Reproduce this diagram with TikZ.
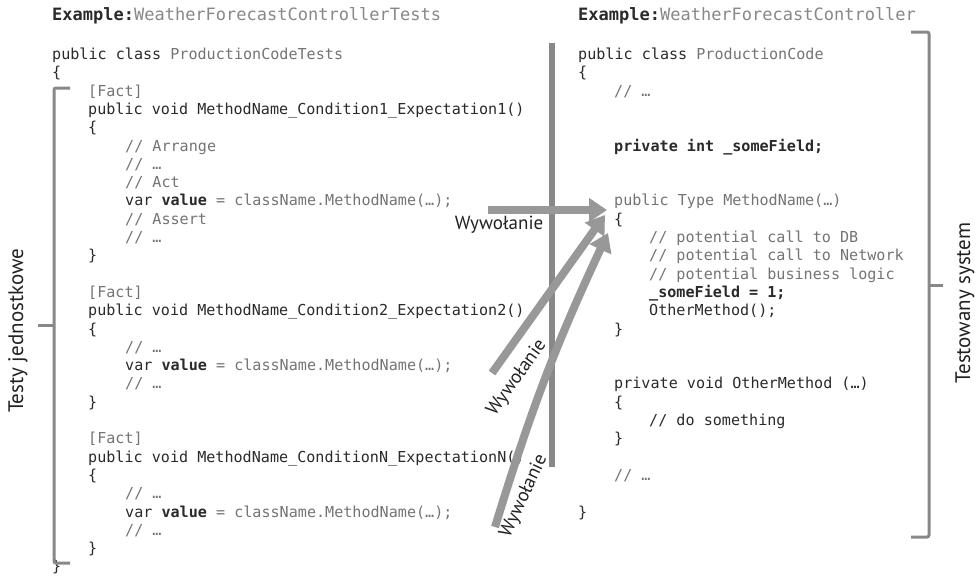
\documentclass[tikz,border=0pt]{standalone}
\usepackage{fontspec}
\setmainfont{PT Sans}
\newfontfamily\codefont{DejaVu Sans Mono}
\usetikzlibrary{arrows.meta}
\definecolor{cdark}{HTML}{2A2A2A}
\definecolor{cgray}{HTML}{747474}
\definecolor{lgray}{HTML}{888888}
\definecolor{linegray}{HTML}{888888}
\definecolor{arrgray}{HTML}{989898}
\definecolor{labdark}{HTML}{222222}
\newcommand\codeln[4]{\node[code] (#1) at (#2,{57+18.3*#3}) {#4};}
\begin{document}
\begin{tikzpicture}[x=1pt,y=-1pt,
  code/.style={font={\codefont\fontsize{15.1}{18}\selectfont}, text=cdark, inner sep=0pt, anchor=mid west},
  head/.style={font={\codefont\fontsize{17}{20}\selectfont}, text=cdark, inner sep=0pt, anchor=mid west},
  brk/.style={line width=3pt, draw=linegray, rounded corners=2pt},
  lab/.style={font={\fontsize{21}{24}\selectfont}, text=labdark, inner sep=0pt},
  lab2/.style={font={\fontsize{19}{22}\selectfont}, text=labdark, inner sep=0pt},
  arr/.style={line width=8pt, draw=arrgray, -{Triangle[length=18pt,width=23pt]}}]
\useasboundingbox (0,0) rectangle (976,582);
\fill[white] (0,0) rectangle (976,582);
% headers
\node[head] (hl) at (52,18) {\textbf{Example:}\textcolor{lgray}{WeatherForecastControllerTests}};
\node[head] (hr) at (578,18) {\textbf{Example:}\textcolor{lgray}{WeatherForecastController}};
% left listing
\codeln{L0}{52}{0}{public class \textcolor{cgray}{ProductionCodeTests}}
\codeln{L1}{52}{1}{\{}
\codeln{L2}{88}{2}{\textcolor{cgray}{[Fact]}}
\codeln{L3}{88}{3}{public void MethodName\_Condition1\_Expectation1()}
\codeln{L4}{88}{4}{\{}
\codeln{L5}{125}{5}{\textcolor{cgray}{// Arrange}}
\codeln{L6}{125}{6}{\textcolor{cgray}{// …}}
\codeln{L7}{125}{7}{\textcolor{cgray}{// Act}}
\codeln{L8}{125}{8}{var \textbf{value} \textcolor{cgray}{= className.MethodName(…);}}
\codeln{L9}{125}{9}{\textcolor{cgray}{// Assert}}
\codeln{L10}{125}{10}{\textcolor{cgray}{// …}}
\codeln{L11}{88}{11}{\}}
\codeln{L13}{88}{13}{\textcolor{cgray}{[Fact]}}
\codeln{L14}{88}{14}{public void MethodName\_Condition2\_Expectation2()}
\codeln{L15}{88}{15}{\{}
\codeln{L16}{125}{16}{\textcolor{cgray}{// …}}
\codeln{L17}{125}{17}{var \textbf{value} \textcolor{cgray}{= className.MethodName(…);}}
\codeln{L18}{125}{18}{\textcolor{cgray}{// …}}
\codeln{L19}{88}{19}{\}}
\codeln{L21}{88}{21}{\textcolor{cgray}{[Fact]}}
\codeln{L22}{88}{22}{public void MethodName\_ConditionN\_ExpectationN()}
\codeln{L23}{88}{23}{\{}
\codeln{L24}{125}{24}{\textcolor{cgray}{// …}}
\codeln{L25}{125}{25}{var \textbf{value} \textcolor{cgray}{= className.MethodName(…);}}
\codeln{L26}{125}{26}{\textcolor{cgray}{// …}}
\codeln{L27}{88}{27}{\}}
\codeln{L28}{52}{28}{\}}
% right listing
\codeln{R0}{578}{0}{public class \textcolor{cgray}{ProductionCode}}
\codeln{R1}{578}{1}{\{}
\codeln{R2}{614}{2}{\textcolor{cgray}{// …}}
\codeln{R5}{614}{5}{\textbf{private int \_someField;}}
\codeln{R8}{614}{8}{\textcolor{cgray}{public Type MethodName(…)}}
\codeln{R9}{614}{9}{\{}
\codeln{R10}{649}{10}{\textcolor{cgray}{// potential call to DB}}
\codeln{R11}{649}{11}{\textcolor{cgray}{// potential call to Network}}
\codeln{R12}{649}{12}{\textcolor{cgray}{// potential business logic}}
\codeln{R13}{649}{13}{\textbf{\_someField = 1;}}
\codeln{R14}{649}{14}{OtherMethod();}
\codeln{R15}{614}{15}{\}}
\codeln{R18}{614}{18}{private void OtherMethod (…)}
\codeln{R19}{614}{19}{\{}
\codeln{R20}{649}{20}{// do something}
\codeln{R21}{614}{21}{\}}
\codeln{R23}{614}{23}{\textcolor{cgray}{// …}}
\codeln{R25}{578}{25}{\}}
% divider
\coordinate (vtop) at (552,43);
\coordinate (vbot) at (552,467);
\draw[line width=6pt, draw=linegray] (vtop) -- (vbot);
% brackets
\draw[brk] (70,88) -- (54,88) -- (54,563) -- (70,563);
\draw[brk] (54,325.5) -- (38,325.5);
\draw[brk] (911,32) -- (929,32) -- (929,537) -- (911,537);
\draw[brk] (929,285) -- (943,285);
% side labels
\node[lab, rotate=90] (tl) at (18,331) {Testy jednostkowe};
\node[lab, rotate=90] (tr) at (965,303) {Testowany system};
% arrows
\coordinate (a1s) at (488,210);
\coordinate (a1e) at (607,210);
\coordinate (a2s) at (492,373);
\coordinate (a2e) at (605,215);
\coordinate (a3s) at (495,527);
\coordinate (a3e) at (608,233);
\draw[arr] (a1s) -- (a1e);
\draw[arr] (a2s) -- (a2e);
\draw[arr] (a3s) to[bend left=4] (a3e);
% arrow labels
\node[lab2] (w1) at (499,225) {Wywołanie};
\node[lab2, rotate=54.5] (w2) at (517,378) {Wywołanie};
\node[lab2, rotate=65] (w3) at (524,496) {Wywołanie};
\end{tikzpicture}
\end{document}
